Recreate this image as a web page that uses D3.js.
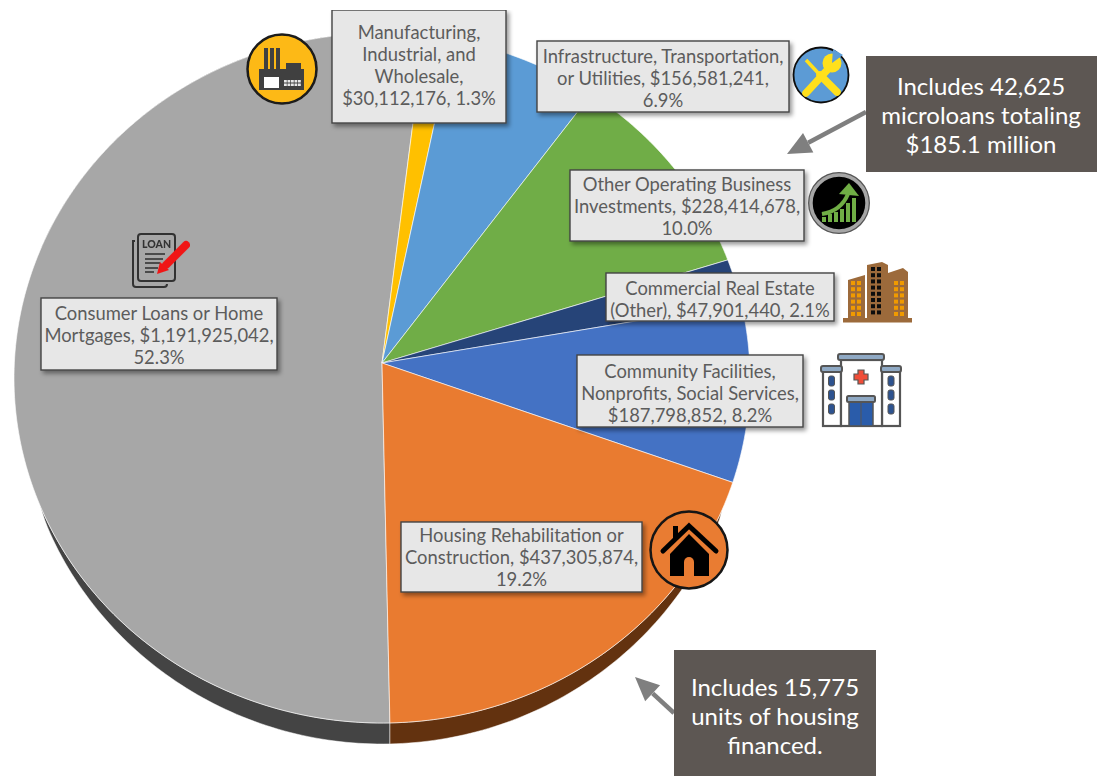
<!DOCTYPE html>
<html>
<head>
<meta charset="utf-8">
<script src="https://cdn.jsdelivr.net/npm/d3@7"></script>
<style>
  html, body { margin: 0; background: #fff; }
  text { font-family: Lato, "Open Sans", sans-serif; }
</style>
</head>
<body>
<div id="app"></div>
<script>
// slices, clockwise from the bottom of the pie
const categories = [
  "Consumer Loans or Home Mortgages",
  "Manufacturing, Industrial, and Wholesale",
  "Infrastructure, Transportation, or Utilities",
  "Other Operating Business Investments",
  "Commercial Real Estate (Other)",
  "Community Facilities, Nonprofits, Social Services",
  "Housing Rehabilitation or Construction",
];
const amounts = [1191925042, 30112176, 156581241, 228414678, 47901440, 187798852, 437305874];
const colors = ["#a7a7a7", "#ffc000", "#5b9bd5", "#70ad47", "#264478", "#4472c4", "#e97b30"];
const wallColors = { 0: "#444444", 6: "#63320f" };

const labelLines = [
  ["Consumer Loans or Home", "Mortgages, $1,191,925,042,", "52.3%"],
  ["Manufacturing,", "Industrial, and", "Wholesale,", "$30,112,176, 1.3%"],
  ["Infrastructure, Transportation,", "or Utilities, $156,581,241,", "6.9%"],
  ["Other Operating Business", "Investments, $228,414,678,", "10.0%"],
  ["Commercial Real Estate", "(Other), $47,901,440, 2.1%"],
  ["Community Facilities,", "Nonprofits, Social Services,", "$187,798,852, 8.2%"],
  ["Housing Rehabilitation or", "Construction, $437,305,874,", "19.2%"],
];
// x0, y0, x1, y1 of each label box
const labelBoxes = [
  [41, 298, 277, 370],
  [332, 10, 506, 123],
  [537, 41, 789, 112],
  [570, 170, 804, 241],
  [606, 273, 834, 321],
  [577, 355, 803, 427],
  [401, 522, 642, 592],
];
// text is not quite centred in the boxes
const labelNudge = [7.5, 5.5, 8.5, 7.5, 8.5, 8.5, 6.5];

const noteLines = [
  ["Includes 42,625", "microloans totaling", "$185.1 million"],
  ["Includes 15,775", "units of housing", "financed."],
];
const noteBoxes = [
  [866, 56, 1097, 172],
  [674, 650, 876, 776],
];
const noteCenters = [981, 775];
// middle line baseline of each call-out
const noteBaselines = [124, 724.5];
// tail x, tail y, tip x, tip y
const noteArrows = [
  [866, 112, 787, 154],
  [674, 713, 635, 677],
];

// the pie is tilted: the rim is an ellipse and the apex sits above its centre
const apex = { x: 382, y: 363 };
const rim = { cx: 382, cy: 378, rx: 368, ry: 345 };
const wallDepth = 21;
const wallHalfWidth = 340;
const startDeg = 178.8;
const tiltDeg = 1.5;

const svg = d3
  .select("#app")
  .append("svg")
  .attr("width", 1097)
  .attr("height", 776)
  .attr("viewBox", [0, 0, 1097, 776])
  .style("display", "block");

const defs = svg.append("defs");
const shadow = defs.append("filter").attr("id", "boxShadow").attr("x", "-10%").attr("y", "-10%").attr("width", "125%").attr("height", "130%");
shadow.append("feDropShadow").attr("dx", 2.5).attr("dy", 3).attr("stdDeviation", 2).attr("flood-color", "#000").attr("flood-opacity", 0.4);
const soft = defs.append("filter").attr("id", "soft");
soft.append("feGaussianBlur").attr("stdDeviation", 0.35);

const pie = d3
  .pie()
  .sort(null)
  .startAngle((startDeg * Math.PI) / 180)
  .endAngle(((startDeg + 360) * Math.PI) / 180);
const arcs = pie(amounts);

// where a pie angle lands on the rim
function rimPoint(angle) {
  const a = angle + ((tiltDeg * Math.PI) / 180) * Math.sin(2 * angle);
  const dx = Math.sin(a);
  const dy = -Math.cos(a);
  const oy = apex.y - rim.cy;
  const A = (dx * dx) / (rim.rx * rim.rx) + (dy * dy) / (rim.ry * rim.ry);
  const B = (2 * oy * dy) / (rim.ry * rim.ry);
  const C = (oy * oy) / (rim.ry * rim.ry) - 1;
  const t = (-B + Math.sqrt(B * B - 4 * A * C)) / (2 * A);
  return [apex.x + dx * t, apex.y + dy * t];
}

function sampleAngles(d) {
  const n = Math.max(8, Math.ceil((d.endAngle - d.startAngle) * 60));
  return d3.range(n + 1).map((i) => d.startAngle + ((d.endAngle - d.startAngle) * i) / n);
}

function depthAt(x) {
  const u = (x - rim.cx) / wallHalfWidth;
  return u * u >= 1 ? 0 : wallDepth * Math.pow(1 - u * u, 0.4);
}

const line = d3.line();

// side wall under the two bottom slices
const walls = svg.append("g").attr("class", "walls");
arcs.forEach((d, i) => {
  if (!wallColors[i]) return;
  const top = sampleAngles(d).map(rimPoint);
  const bottom = top.map((p) => [p[0], p[1] + depthAt(p[0])]).reverse();
  walls
    .append("path")
    .attr("d", line(top.concat(bottom)) + "Z")
    .attr("fill", wallColors[i])
    .attr("stroke", "#fff")
    .attr("stroke-width", 0.5);
});

// slices
svg
  .append("g")
  .attr("class", "slices")
  .selectAll("path")
  .data(arcs)
  .join("path")
  .attr("d", (d) => line([[apex.x, apex.y]].concat(sampleAngles(d).map(rimPoint))) + "Z")
  .attr("fill", (d, i) => colors[i])
  .attr("stroke", "#fff")
  .attr("stroke-opacity", 0.75)
  .attr("stroke-width", 0.8)
  .attr("stroke-linejoin", "round")
  .append("title")
  .text((d, i) => categories[i]);

// label boxes
const labels = svg
  .append("g")
  .attr("class", "labels")
  .selectAll("g")
  .data(labelLines)
  .join("g");

labels
  .append("rect")
  .attr("x", (d, i) => labelBoxes[i][0])
  .attr("y", (d, i) => labelBoxes[i][1])
  .attr("width", (d, i) => labelBoxes[i][2] - labelBoxes[i][0])
  .attr("height", (d, i) => labelBoxes[i][3] - labelBoxes[i][1])
  .attr("fill", "#e7e7e7")
  .attr("stroke", "#444")
  .attr("stroke-width", 1.4)
  .attr("filter", "url(#boxShadow)");

labels.each(function (lines, i) {
  const [x0, y0, x1, y1] = labelBoxes[i];
  const mid = (y0 + y1) / 2;
  d3.select(this)
    .selectAll("text")
    .data(lines)
    .join("text")
    .attr("x", (x0 + x1) / 2)
    .attr("y", (d, k) => mid + (k - (lines.length - 1) / 2) * 22 + labelNudge[i])
    .attr("text-anchor", "middle")
    .attr("font-size", 18.4)
    .attr("fill", "#5c5c5c")
    .text((d) => d);
});

// white strip above the picture cuts off the top of the manufacturing box
svg.append("rect").attr("x", 300).attr("y", 0).attr("width", 230).attr("height", 10).attr("fill", "#fff");

// dark call-outs
const notes = svg.append("g").attr("class", "notes");
noteBoxes.forEach((b, i) => {
  const [tx, ty, hx, hy] = noteArrows[i];
  const len = Math.hypot(hx - tx, hy - ty);
  const ux = (hx - tx) / len;
  const uy = (hy - ty) / len;
  const baseX = hx - ux * 24;
  const baseY = hy - uy * 24;
  notes
    .append("line")
    .attr("x1", tx)
    .attr("y1", ty)
    .attr("x2", baseX)
    .attr("y2", baseY)
    .attr("stroke", "#7f7f7f")
    .attr("stroke-width", 4.5);
  notes
    .append("path")
    .attr("d", line([[hx, hy], [baseX - uy * 11, baseY + ux * 11], [baseX + uy * 11, baseY - ux * 11]]) + "Z")
    .attr("fill", "#7f7f7f");
  notes
    .append("rect")
    .attr("x", b[0])
    .attr("y", b[1])
    .attr("width", b[2] - b[0])
    .attr("height", b[3] - b[1])
    .attr("fill", "#5d5753");
  noteLines[i].forEach((t, k) => {
    notes
      .append("text")
      .attr("x", noteCenters[i])
      .attr("y", noteBaselines[i] + (k - 1) * 29)
      .attr("text-anchor", "middle")
      .attr("font-size", 24)
      .attr("fill", "#fff")
      .text(t);
  });
});

// icons
const icons = svg.append("g").attr("class", "icons").attr("filter", "url(#soft)");

function box(g, x0, y0, x1, y1, fill) {
  return g.append("rect").attr("x", x0).attr("y", y0).attr("width", x1 - x0).attr("height", y1 - y0).attr("fill", fill);
}

function drawFactory() {
  const g = icons.append("g").attr("transform", "translate(282,69)");
  g.append("circle").attr("r", 34.5).attr("fill", "#fdb913").attr("stroke", "#1a1a1a").attr("stroke-width", 2.5);
  const dark = "#404040";
  box(g, -23, 0, 22, 21, dark);
  [-18, -12, -6].forEach((x) => box(g, x, -21, x + 4, 1, dark));
  box(g, 4, -6, 19, 0, dark);
  box(g, -18, 8, -3, 19, "#fff");
  d3.range(5).forEach((i) => {
    box(g, 2 + i * 3.5, 11, 4.8 + i * 3.5, 13.5, "#e8e8e8");
    box(g, 2 + i * 3.5, 14.5, 4.8 + i * 3.5, 17, "#e8e8e8");
  });
}

function drawTools() {
  const g = icons.append("g").attr("transform", "translate(821,75)");
  g.append("circle").attr("r", 27.5).attr("fill", "#5b9bd5").attr("stroke", "#111").attr("stroke-width", 1.8);
  const yellow = "#ffe01a";
  g.append("line").attr("x1", 16).attr("y1", 17).attr("x2", -1).attr("y2", 0).attr("stroke", yellow).attr("stroke-width", 7.5).attr("stroke-linecap", "round");
  g.append("line").attr("x1", -1).attr("y1", 0).attr("x2", -15).attr("y2", -15).attr("stroke", yellow).attr("stroke-width", 3.5);
  g.append("line").attr("x1", -15).attr("y1", 18).attr("x2", 9).attr("y2", -8).attr("stroke", yellow).attr("stroke-width", 7.5).attr("stroke-linecap", "round");
  g.append("circle").attr("cx", 11).attr("cy", -12).attr("r", 9.5).attr("fill", yellow);
  g.append("path").attr("d", "M11,-12L22,-20L12,-26Z").attr("fill", "#5b9bd5");
}

function drawGrowth() {
  const g = icons.append("g").attr("transform", "translate(839,203)");
  g.append("circle").attr("r", 31).attr("fill", "#555");
  g.append("circle").attr("r", 28).attr("fill", "#050505").attr("stroke", "#a6a6a6").attr("stroke-width", 3.4);
  const green = "#6fae44";
  [[-17, 5], [-11, 8], [-5, 10], [1, 13], [7, 19], [13, 24]].forEach(([x, h]) => box(g, x, 19 - h, x + 4, 19, green));
  g.append("path").attr("d", "M-17,11Q2,8 9,-9").attr("fill", "none").attr("stroke", green).attr("stroke-width", 4);
  g.append("path").attr("d", "M10,-20L20,-7L0,-9Z").attr("fill", green);
}

function drawBuilding() {
  const g = icons.append("g");
  const brown = "#9c6a3a";
  g.append("path").attr("d", "M848,280L865,275V318H848Z").attr("fill", brown);
  g.append("path").attr("d", "M867,265L882,262L888,265V318H867Z").attr("fill", brown);
  g.append("path").attr("d", "M888,273L903,268L908,272V318H888Z").attr("fill", brown);
  box(g, 843, 318, 912, 322.5, brown);
  [[851, 857], [894, 900]].forEach((cols) => {
    cols.forEach((x) => {
      d3.range(6).forEach((r) => box(g, x, 281 + r * 6.2, x + 4, 285 + r * 6.2, "#f09a00"));
    });
  });
  [871, 877].forEach((x) => {
    d3.range(8).forEach((r) => box(g, x, 267 + r * 6.2, x + 4, 271 + r * 6.2, "#111"));
  });
}

function drawHospital() {
  const g = icons.append("g");
  const edge = "#555";
  const roof = "#8fa9c4";
  [[823, 841], [882, 900]].forEach(([a, b]) => {
    box(g, a, 370, b, 426, "#fff").attr("stroke", edge).attr("stroke-width", 2.2);
  });
  box(g, 841, 360, 882, 426, "#fff").attr("stroke", edge).attr("stroke-width", 2.2);
  [[821, 842, 366], [881, 901, 366], [838, 884, 354]].forEach(([a, b, y]) => {
    box(g, a, y, b, y + 6, roof).attr("stroke", edge).attr("stroke-width", 2).attr("rx", 2);
  });
  [828.5, 888].forEach((x) => {
    [376, 390, 404].forEach((y) => {
      box(g, x, y, x + 6, y + 10, "#2f528f").attr("stroke", edge).attr("rx", 2);
    });
  });
  g.append("path")
    .attr("d", "M858,370H864V374H868V380H864V384H858V380H854V374H858Z")
    .attr("fill", "#f04e37")
    .attr("stroke", edge)
    .attr("stroke-width", 1.2);
  box(g, 849, 402, 873, 426, "#2a5caa").attr("stroke", edge).attr("stroke-width", 1.5);
  g.append("line").attr("x1", 861).attr("y1", 402).attr("x2", 861).attr("y2", 426).attr("stroke", edge);
  box(g, 847, 396, 875, 402, roof).attr("stroke", edge).attr("stroke-width", 2).attr("rx", 1.5);
}

function drawHouse() {
  const g = icons.append("g").attr("transform", "translate(689,550)");
  g.append("circle").attr("r", 38.5).attr("fill", "#e97b30").attr("stroke", "#151515").attr("stroke-width", 2.5);
  box(g, -16, -24, -11, -12, "#050505");
  g.append("path").attr("d", "M-19,4L0,-16L20,4V26H-19Z").attr("fill", "#050505");
  g.append("path").attr("d", "M-26,1L0,-24L27,1").attr("fill", "none").attr("stroke", "#050505").attr("stroke-width", 5).attr("stroke-linecap", "round");
  g.append("path").attr("d", "M-5,26V12A5,5 0 0 1 5,12V26Z").attr("fill", "#e97b30");
}

function drawLoan() {
  const g = icons.append("g");
  const ink = "#333";
  g.append("path").attr("d", "M135,241H133V284Q133,287 136,287H164Q167,287 167,284").attr("fill", "none").attr("stroke", ink).attr("stroke-width", 2);
  g.append("rect").attr("x", 138).attr("y", 234).attr("width", 37).attr("height", 47).attr("rx", 3).attr("fill", "none").attr("stroke", ink).attr("stroke-width", 2);
  g.append("text").attr("x", 156.5).attr("y", 248).attr("text-anchor", "middle").attr("font-size", 10.5).attr("font-weight", 900).attr("fill", ink).text("LOAN");
  [[254, 165], [259, 163], [263, 160], [268, 158], [272, 154]].forEach(([y, x2]) => {
    g.append("line").attr("x1", 145).attr("y1", y).attr("x2", x2).attr("y2", y).attr("stroke", ink).attr("stroke-width", 1.6);
  });
  g.append("line").attr("x1", 186).attr("y1", 245).attr("x2", 166).attr("y2", 265).attr("stroke", "#f01818").attr("stroke-width", 8).attr("stroke-linecap", "round");
  g.append("path").attr("d", "M157,274L160,262L169,270Z").attr("fill", "#f01818");
}

drawFactory();
drawTools();
drawGrowth();
drawBuilding();
drawHospital();
drawHouse();
drawLoan();
</script>
</body>
</html>
